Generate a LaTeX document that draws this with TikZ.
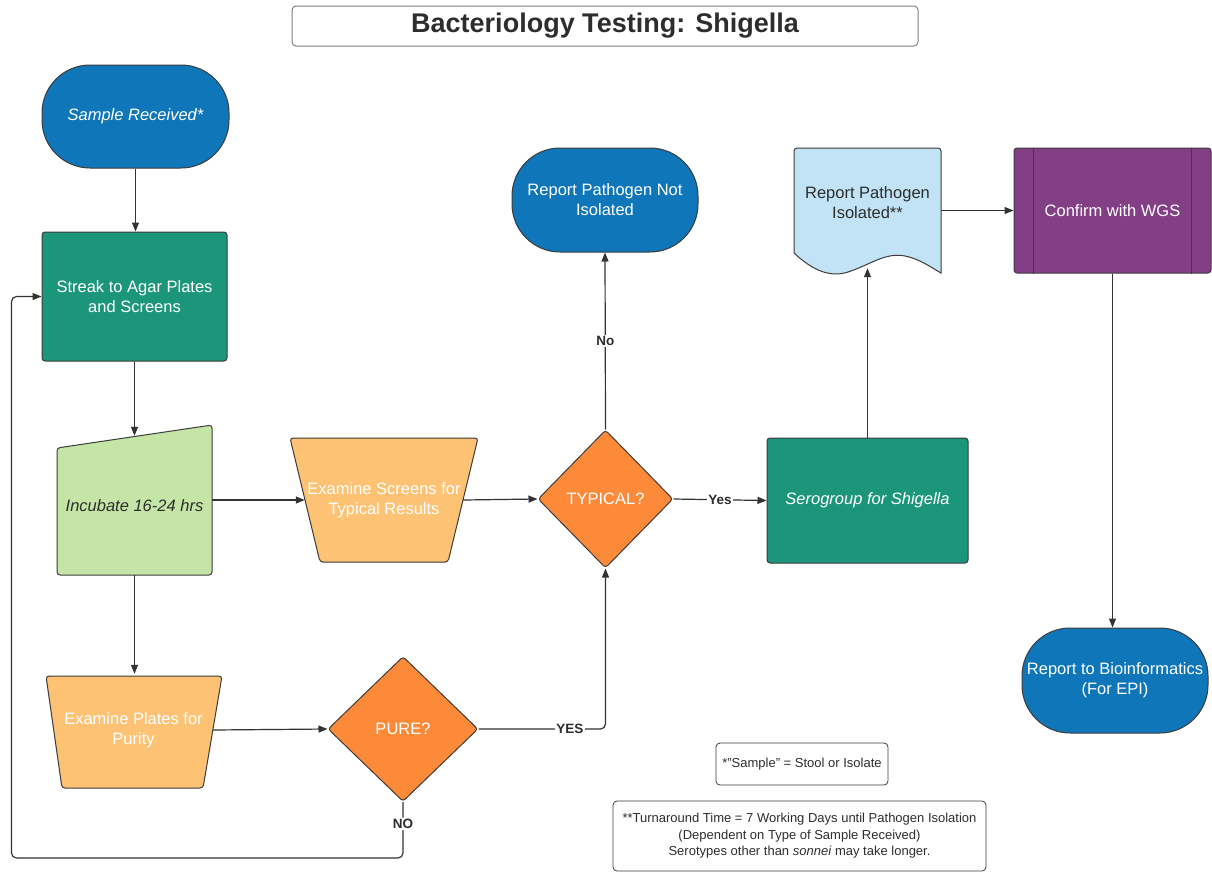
\documentclass[tikz,border=0pt]{standalone}
\usepackage{fontspec}
\setmainfont{Liberation Sans}
\usetikzlibrary{shapes.geometric,arrows.meta,backgrounds,calc}

\definecolor{edge}{RGB}{60,60,60}
\definecolor{linegray}{RGB}{51,51,51}
\definecolor{darktext}{RGB}{45,45,45}
\definecolor{termblue}{RGB}{14,118,185}
\definecolor{procgreen}{RGB}{27,150,122}
\definecolor{lightgreen}{RGB}{197,229,166}
\definecolor{lightorange}{RGB}{254,194,116}
\definecolor{decorange}{RGB}{253,138,57}
\definecolor{docblue}{RGB}{193,227,245}
\definecolor{wgspurple}{RGB}{130,63,134}

\begin{document}
\begin{tikzpicture}[x=1pt,y=-1pt,
  every node/.style={font=\fontsize{16.5}{20}\selectfont, align=center, inner sep=0pt},
  terminal/.style={rectangle, rounded corners=48, draw=edge, fill=termblue, text=white, line width=1pt},
  process/.style={rectangle, rounded corners=3, draw=edge, fill=procgreen, text=white, line width=1pt},
  decision/.style={diamond, rounded corners=3, draw=edge, fill=decorange, text=white, line width=1pt},
  outline/.style={draw=edge, line width=1pt, rounded corners=3},
  link/.style={draw=linegray, line width=1.2pt, -{Triangle[length=9pt,width=7pt]}},
  tag/.style={font=\fontsize{13.5}{16}\selectfont\bfseries, text=darktext, fill=white, inner sep=1.5pt},
  note/.style={draw=edge, rounded corners=4, line width=0.8pt, text=darktext,
               font=\fontsize{13}{16.5}\selectfont}]

\useasboundingbox (0,0) rectangle (1212,873);

% title
\node[draw=gray, rounded corners=4, line width=1pt, minimum width=626, minimum height=40,
      font=\fontsize{27}{30}\selectfont\bfseries, text=darktext] (title) at (605,26)
      {Bacteriology Testing: Shigella};

% left column
\node[terminal, minimum width=187, minimum height=103, font=\fontsize{16.5}{20}\selectfont\itshape]
      (sample) at (135.5,116.5) {Sample Received*};
\node[process, minimum width=185, minimum height=129] (streak) at (134.5,296.5)
      {Streak to Agar Plates\\and Screens};
\node[minimum width=155, minimum height=139, text=darktext, font=\fontsize{16.5}{20}\selectfont\itshape]
      (incubate) at (134.5,505.5) {Incubate 16-24 hrs};
\node[minimum width=158, minimum height=112, text=white] (plates) at (133.5,730)
      {Examine Plates for\\Purity};

% middle
\node[minimum width=158, minimum height=124, text=white] (screens) at (384,500)
      {Examine Screens for\\Typical Results};
\node[decision, minimum width=135, minimum height=138] (typical) at (605.5,499) {TYPICAL?};
\node[decision, minimum width=150, minimum height=145] (pure) at (403,729) {PURE?};
\node[terminal, minimum width=186, minimum height=104] (notiso) at (605,200)
      {Report Pathogen Not\\Isolated};

% right side
\node[process, minimum width=201, minimum height=125, font=\fontsize{16.5}{20}\selectfont\itshape]
      (sero) at (867.5,500.5) {Serogroup for Shigella};
\node[minimum width=147, minimum height=130, text=darktext] (doc) at (867.5,203)
      {Report Pathogen\\Isolated**};
\node[process, fill=wgspurple, minimum width=197, minimum height=125] (wgs) at (1112.5,210.5)
      {Confirm with WGS};
\draw[edge, line width=1pt] ($(wgs.north west)+(20,0)$) -- ($(wgs.south west)+(20,0)$);
\draw[edge, line width=1pt] ($(wgs.north east)+(-20,0)$) -- ($(wgs.south east)+(-20,0)$);
\node[terminal, minimum width=186, minimum height=105] (bio) at (1115,680.5)
      {Report to Bioinformatics\\(For EPI)};

% footnotes
\node[note, minimum width=172, minimum height=42] (note1) at (802,764)
      {*"Sample" = Stool or Isolate};
\node[note, minimum width=373, minimum height=70] (note2) at (799.5,836)
      {**Turnaround Time = 7 Working Days until Pathogen Isolation\\
       (Dependent on Type of Sample Received)\\
       Serotypes other than \textit{sonnei} may take longer.};

% custom outlines behind the text nodes
\begin{scope}[on background layer]
  \filldraw[outline, fill=lightgreen] (57,448) -- (212,425) -- (212,575) -- (57,575) -- cycle;
  \filldraw[outline, fill=lightorange] (290,438) -- (478,438) -- (448,562) -- (320,562) -- cycle;
  \filldraw[outline, fill=lightorange] (46,676) -- (222,676) -- (203,788) -- (62,788) -- cycle;
  \filldraw[draw=edge, line width=1pt, fill=docblue]
    (794,253) [rounded corners=3] -- (794,148) -- (941,148) [sharp corners] -- (941,273)
    .. controls (932,268) and (920,259) .. (905,256)
    .. controls (885,252) and (870,265) .. (848,272)
    .. controls (830,278) and (812,270) .. (794,253) -- cycle;
\end{scope}

% connectors
\draw[link] (sample.south) -- (sample.south |- streak.north);
\draw[link] (streak.south) -- (streak.south |- incubate.north);
\draw[link] (incubate.east |- screens.west) -- (screens.west);
\draw[link] (screens.east) -- (typical.west);
\draw[link] (typical.north) -- node[tag]{No} (notiso.south);
\draw[link] (typical.east) -- node[tag]{Yes} (sero.west);
\draw[link] (sero.north) -- (sero.north |- doc.south);
\draw[link] (doc.east |- wgs.west) -- (wgs.west);
\draw[link] (wgs.south) -- (wgs.south |- bio.north);
\draw[link] (incubate.south) -- (incubate.south |- plates.north);
\draw[link] (plates.east) -- (pure.west);
\draw[link, rounded corners=5] (pure.east) -- node[tag, pos=0.72]{YES} (pure.east -| typical.south)
      -- (typical.south);
\draw[link, rounded corners=5] (pure.south) -- node[tag, pos=0.39]{NO} ++(0,56)
      -| ($(streak.west)+(-30,0)$) -- (streak.west);

\end{tikzpicture}
\end{document}
